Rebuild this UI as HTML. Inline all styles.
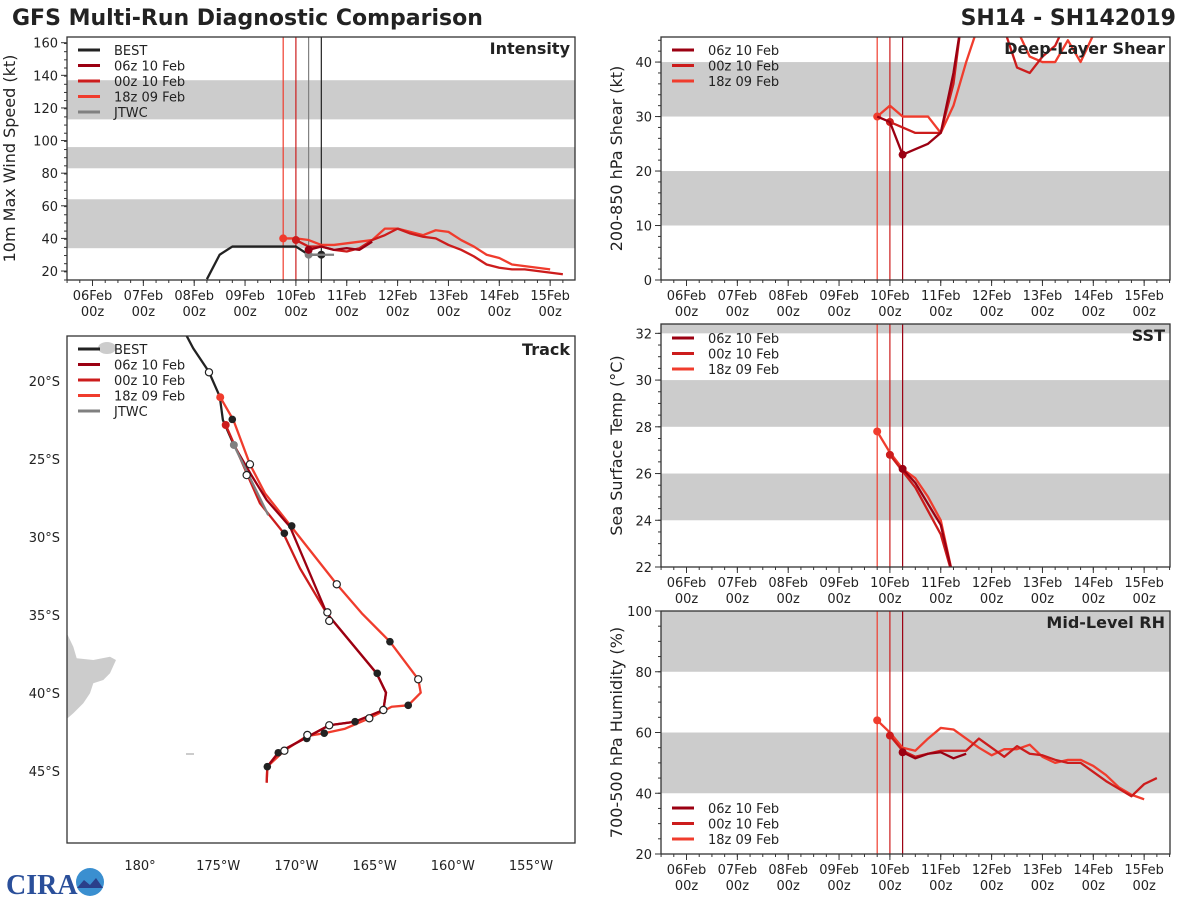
<!DOCTYPE html>
<html><head><meta charset="utf-8">
<style>
html,body{margin:0;padding:0;background:#fff;}
svg{display:block;font-family:"DejaVu Sans","Liberation Sans",sans-serif;}
</style></head>
<body>
<svg id="fig" width="1200" height="900" viewBox="0 0 1200 900" xmlns="http://www.w3.org/2000/svg">
<text x="12" y="25" font-size="22" font-weight="bold" fill="#222">GFS Multi-Run Diagnostic Comparison</text>
<text x="1176" y="25" font-size="22" font-weight="bold" fill="#222" text-anchor="end">SH14 - SH142019</text>
<g>
<text x="6" y="894" font-size="28" font-weight="bold" fill="#2a4f9a" font-family="Liberation Serif, serif">CIRA</text>
<circle cx="90" cy="882" r="14" fill="#3a8fd0"/>
<path d="M77 888 L84 880 L90 885 L96 878 L103 888 Z" fill="#2a3f8a"/>
</g>
</svg>
<script>
// ---------- data ----------
const runNames = ["06z 10 Feb","00z 10 Feb","18z 09 Feb"];
const dayLabels = ["06Feb","07Feb","08Feb","09Feb","10Feb","11Feb","12Feb","13Feb","14Feb","15Feb"];
// times in days since 06 Feb 00z
const bestT = [2.25,2.5,2.75,3.0,3.5,4.0,4.25,4.5];
const bestV = [15,30,35,35,35,35,30,30];
const jtwcT = [4.25,4.5,4.75];
const jtwcV = [30,30,30];
const int06T = [4.25,4.5,4.75,5.0,5.25,5.5];
const int06V = [33,35,33,34,33,38];
const int00T = [4.0,4.25,4.5,4.75,5.0,5.25,5.5,5.75,6.0,6.25,6.5,6.75,7.0,7.25,7.5,7.75,8.0,8.25,8.5,8.75,9.0,9.25];
const int00V = [39,35,35,33,32,34,39,42,46,43,41,40,36,33,29,24,22,21,21,20,19,18];
const int18T = [3.75,4.0,4.25,4.5,4.75,5.0,5.25,5.5,5.75,6.0,6.25,6.5,6.75,7.0,7.25,7.5,7.75,8.0,8.25,8.5,8.75,9.0];
const int18V = [40,40,39,36,36,37,38,39,46,46,44,42,45,44,39,35,30,28,24,23,22,21];

const shr06T = [3.75,4.0,4.25,4.5,4.75,5.0,5.25,5.4];
const shr06V = [30,29,23,24,25,27,38,47];
const shr00T = [4.0,4.25,4.5,4.75,5.0,5.25,5.4,6.25,6.5,6.75,7.0,7.25,7.4];
const shr00V = [29,28,27,27,27,36,47,46,39,38,41,43,46];
const shr18T = [3.75,4.0,4.25,4.5,4.75,5.0,5.25,5.5,5.75,6.25,6.5,6.75,7.0,7.25,7.5,7.75,8.0];
const shr18V = [30,32,30,30,30,27,32,40,47,48,46,41,40,40,44,40,45];

const sst06T = [4.25,4.5,4.75,5.0,5.25];
const sst06V = [26.2,25.6,24.7,23.8,21.5];
const sst00T = [4.0,4.25,4.5,4.75,5.0,5.25];
const sst00V = [26.8,26.1,25.4,24.4,23.4,21.5];
const sst18T = [3.75,4.0,4.25,4.5,4.75,5.0,5.25];
const sst18V = [27.8,26.9,26.2,25.8,25.0,24.0,21.5];

const rh06T = [4.25,4.5,4.75,5.0,5.25,5.5];
const rh06V = [53.5,51.5,53,53.5,51.5,53];
const rh00T = [4.0,4.25,4.5,4.75,5.0,5.25,5.5,5.75,6.0,6.25,6.5,6.75,7.0,7.25,7.5,7.75,8.0,8.25,8.5,8.75,9.0,9.25];
const rh00V = [59,54,52,53,54,54,54,58,55,52,55.5,53,52.5,51,50,50,47,44,41.5,39,43,45];
const rh18T = [3.75,4.0,4.25,4.5,4.75,5.0,5.25,5.5,5.75,6.0,6.25,6.5,6.75,7.0,7.25,7.5,7.75,8.0,8.25,8.5,8.75,9.0];
const rh18V = [64,60,55,54,58,61.5,61,58,55,52.5,54.5,54.5,56,52,50,51,51,49,46,42,39.5,38];

// track (lon, lat)
const bestLon = [-177.6,-176.6,-175.6,-174.9,-174.7,-174.0];
const bestLat = [-16.0,-17.9,-19.4,-21.0,-22.5,-24.1];
const jtwcLon = [-174.0,-171.8];
const jtwcLat = [-24.1,-28.6];
const trk18Lon = [-174.87,-174.03,-172.97,-172.01,-170.41,-167.42,-165.82,-164.02,-162.21,-162.05,-162.85,-163.91,-165.34,-166.89,-168.22,-169.34,-170.77,-171.86,-171.90];
const trk18Lat = [-21.04,-22.50,-25.34,-27.20,-29.23,-33.03,-34.89,-36.71,-39.12,-39.98,-40.79,-40.88,-41.62,-42.29,-42.58,-42.76,-43.70,-44.72,-45.75];
const trk00Lon = [-174.52,-173.82,-173.08,-172.33,-170.88,-169.77,-168.06,-164.87,-164.27,-164.44,-166.25,-167.90,-169.34,-171.16,-171.86,-171.90];
const trk00Lat = [-22.82,-24.42,-26.13,-27.84,-29.66,-32.01,-34.89,-38.74,-39.98,-41.09,-41.84,-42.07,-42.84,-43.83,-44.72,-45.75];
const trk06Lon = [-173.82,-172.9,-171.9,-170.41,-168.06,-164.87,-164.27,-164.44,-166.25,-167.90,-169.34,-171.16,-171.86];
const trk06Lat = [-24.42,-26.0,-27.63,-29.34,-34.89,-38.74,-39.98,-41.09,-41.84,-42.07,-42.84,-43.83,-44.72];
const fillLon = [-174.10,-170.30,-170.77,-164.02,-164.83,-162.85,-166.25,-168.22,-169.34,-171.16,-171.86];
const fillLat = [-22.46,-29.29,-29.76,-36.71,-38.74,-40.79,-41.84,-42.58,-42.91,-43.83,-44.72];
const openLon = [-175.59,-172.97,-173.18,-167.42,-168.02,-167.90,-162.21,-164.44,-165.34,-167.90,-169.30,-170.77];
const openLat = [-19.44,-25.34,-26.03,-33.03,-34.83,-35.38,-39.12,-41.09,-41.62,-42.07,-42.69,-43.70];
const lonTicks = [-180,-175,-170,-165,-160,-155];
const lonLabels = ["180°","175°W","170°W","165°W","160°W","155°W"];
const latTicks = [-20,-25,-30,-35,-40,-45];
const latLabels = ["20°S","25°S","30°S","35°S","40°S","45°S"];

// ---------- drawing ----------
const NS = "http://www.w3.org/2000/svg";
const svg = document.getElementById("fig");
const C06 = "#9b0012", C00 = "#cc1c1c", C18 = "#f03c2d", CB = "#222", CJ = "#808080";
function mk(tag, attrs, parent) {
  const e = document.createElementNS(NS, tag);
  for (const k in attrs) e.setAttribute(k, attrs[k]);
  (parent || svg).appendChild(e);
  return e;
}
let clipN = 0;

function panel(cfg) {
  const g = mk("g", {});
  
  
  const {x0, x1, y0, y1, ymin, ymax} = cfg;
  const tx = t => x0 + 25.5 + t * 50.85;
  const ty = v => y1 - (v - ymin) / (ymax - ymin) * (y1 - y0);
  const cid = "clip" + (clipN++);
  const cp = mk("clipPath", {id: cid}, g);
  mk("rect", {x: x0, y: y0, width: x1 - x0, height: y1 - y0}, cp);
  cfg.bands.forEach(b => {
    const r = mk("rect", {x: x0, y: ty(Math.min(b[1], ymax)), width: x1 - x0, height: ty(b[0]) - ty(Math.min(b[1], ymax)), fill: "#cccccc"}, g);
    
    
  });
  cfg.vlines.forEach(v => {
    const l = mk("line", {x1: tx(v[0]), x2: tx(v[0]), y1: y0, y2: y1, stroke: v[1], "stroke-width": 1.2}, g);
    
    
  });
  const cg = mk("g", {"clip-path": "url(#" + cid + ")"}, g);
  cfg.series.forEach(s => {
    const p = mk("polyline", {points: s.t.map((t, i) => tx(t) + "," + ty(s.v[i])).join(" "), fill: "none", stroke: s.c, "stroke-width": 2.3, "stroke-linejoin": "round"}, cg);
    
    
    if (s.m) {
      const c = mk("circle", {cx: tx(s.t[0]), cy: ty(s.v[0]), r: 4, fill: s.c}, cg);
      
      
    }
    if (s.em) {
      const c = mk("circle", {cx: tx(s.t[s.t.length - 1]), cy: ty(s.v[s.v.length - 1]), r: 4, fill: s.c}, cg);
      
      
    }
  });
  const fr = mk("rect", {x: x0, y: y0, width: x1 - x0, height: y1 - y0, fill: "none", stroke: "#333", "stroke-width": 1.3}, g);
  
  
  dayLabels.forEach((d, i) => {
    const x = tx(i);
    mk("line", {x1: x, x2: x, y1: y1, y2: y1 + 6, stroke: "#333"}, g);
    const t = mk("text", {x: x, y: y1 + 20, "font-size": 13, fill: "#222", "text-anchor": "middle"}, g);
    t.textContent = d;
    
    
    const t2 = mk("text", {x: x, y: y1 + 36, "font-size": 13, fill: "#222", "text-anchor": "middle"}, g);
    t2.textContent = "00z";
    
    
  });
  for (let t = -0.5; t <= 9.5; t += 0.25) {
    const x = tx(t);
    if (x > x0 && x < x1) mk("line", {x1: x, x2: x, y1: y1, y2: y1 + 3, stroke: "#333"}, g);
  }
  cfg.yticks.forEach(v => {
    const y = ty(v);
    mk("line", {x1: x0 - 6, x2: x0, y1: y, y2: y, stroke: "#333"}, g);
    const t = mk("text", {x: x0 - 9, y: y + 5, "font-size": 13, fill: "#222", "text-anchor": "end"}, g);
    t.textContent = String(v);
    
    
  });
  for (let v = ymin; v <= ymax; v += cfg.minor) {
    const y = ty(v);
    if (y >= y0 && y <= y1) mk("line", {x1: x0 - 3, x2: x0, y1: y, y2: y, stroke: "#333"}, g);
  }
  const yl = mk("text", {x: 0, y: 0, "font-size": 16, fill: "#222", "text-anchor": "middle", transform: "translate(" + cfg.ylx + "," + (y0 + y1) / 2 + ") rotate(-90)"}, g);
  yl.textContent = cfg.ylabel;
  
  
  const pt = mk("text", {x: x1 - 5, y: y0 + 17, "font-size": 16, "font-weight": "bold", fill: "#222", "text-anchor": "end"}, g);
  pt.textContent = cfg.title;
  
  
  legend(g, x0 + 11, cfg.legY, cfg.legend);
}

function legend(g, x, y, items) {
  const lg = mk("g", {}, g);
  
  
  items.forEach((it, i) => {
    const yy = y + i * 15.5;
    mk("line", {x1: x, x2: x + 22, y1: yy, y2: yy, stroke: it[1], "stroke-width": 3}, lg);
    const t = mk("text", {x: x + 36, y: yy + 5, "font-size": 13, fill: "#222"}, lg);
    t.textContent = it[0];
    
    
  });
}

const runLeg = [[runNames[0], C06], [runNames[1], C00], [runNames[2], C18]];
const allLeg = [["BEST", CB]].concat(runLeg).concat([["JTWC", CJ]]);

panel({name: "intensity-panel", x0: 67, x1: 575, y0: 37, y1: 280, ymin: 14.5, ymax: 163.5,
  bands: [[34, 64], [83, 96], [113, 137]], yticks: [20, 40, 60, 80, 100, 120, 140, 160], minor: 5,
  vlines: [[3.75, C18], [4.0, C00], [4.25, CJ], [4.5, CB]],
  series: [
    {n: "best", t: bestT, v: bestV, c: CB, em: true},
    {n: "jtwc", t: jtwcT, v: jtwcV, c: CJ, m: true},
    {n: "run-18z-09feb", t: int18T, v: int18V, c: C18, m: true},
    {n: "run-00z-10feb", t: int00T, v: int00V, c: C00, m: true},
    {n: "run-06z-10feb", t: int06T, v: int06V, c: C06, m: true}],
  ylabel: "10m Max Wind Speed (kt)", ylx: 15, title: "Intensity", legY: 50, legend: allLeg});

const rv = [[3.75, C18], [4.0, C00], [4.25, C06]];
panel({name: "shear-panel", x0: 661, x1: 1170, y0: 37, y1: 280, ymin: 0, ymax: 44.6,
  bands: [[10, 20], [30, 40]], yticks: [0, 10, 20, 30, 40], minor: 2, vlines: rv,
  series: [
    {n: "run-18z-09feb", t: shr18T, v: shr18V, c: C18, m: true},
    {n: "run-00z-10feb", t: shr00T, v: shr00V, c: C00, m: true},
    {n: "run-06z-10feb", t: shr06T.slice(2), v: shr06V.slice(2), c: C06, m: true},
    {n: "run-06z-10feb-lead", t: shr06T.slice(0, 3), v: shr06V.slice(0, 3), c: C06}],
  ylabel: "200-850 hPa Shear (kt)", ylx: 622, title: "Deep-Layer Shear", legY: 50, legend: runLeg});

panel({name: "sst-panel", x0: 661, x1: 1170, y0: 324, y1: 567, ymin: 22, ymax: 32.4,
  bands: [[24, 26], [28, 30], [32, 33]], yticks: [22, 24, 26, 28, 30, 32], minor: 0.5, vlines: rv,
  series: [
    {n: "run-18z-09feb", t: sst18T, v: sst18V, c: C18, m: true},
    {n: "run-00z-10feb", t: sst00T, v: sst00V, c: C00, m: true},
    {n: "run-06z-10feb", t: sst06T, v: sst06V, c: C06, m: true}],
  ylabel: "Sea Surface Temp (°C)", ylx: 622, title: "SST", legY: 338, legend: runLeg});

panel({name: "rh-panel", x0: 661, x1: 1170, y0: 611, y1: 854, ymin: 20, ymax: 100,
  bands: [[40, 60], [80, 100]], yticks: [20, 40, 60, 80, 100], minor: 5, vlines: rv,
  series: [
    {n: "run-18z-09feb", t: rh18T, v: rh18V, c: C18, m: true},
    {n: "run-00z-10feb", t: rh00T, v: rh00V, c: C00, m: true},
    {n: "run-06z-10feb", t: rh06T, v: rh06V, c: C06, m: true}],
  ylabel: "700-500 hPa Humidity (%)", ylx: 622, title: "Mid-Level RH", legY: 808, legend: runLeg});

// ---------- track map ----------
(function () {
  const x0 = 67, x1 = 575, y0 = 336, y1 = 843;
  const px = lon => 140 + (lon + 180) * 15.64;
  const py = lat => 381 + (-lat - 20) * 15.6;
  const g = mk("g", {});
  
  
  const cp = mk("clipPath", {id: "trkclip"}, g);
  mk("rect", {x: x0, y: y0, width: x1 - x0, height: y1 - y0}, cp);
  const cg = mk("g", {"clip-path": "url(#trkclip)"}, g);
  const land = mk("polygon", {points: "60,630 66.7,633 73.3,646.7 76.7,658.3 93.3,660 110,656.7 116,660 110,673.3 103.3,680 93.3,683.3 90,693.3 83.3,703.3 73.3,713.3 66.7,719 60,720", fill: "#cccccc"}, cg);
  
  
  const isl = mk("ellipse", {cx: 107, cy: 348, rx: 9, ry: 6, fill: "#cccccc"}, cg);
  
  
  mk("rect", {x: 186, y: 753, width: 8, height: 2, fill: "#ccc"}, cg);
  const tr = [
    ["best-track", bestLon, bestLat, CB],
    ["run-18z-09feb-track", trk18Lon, trk18Lat, C18],
    ["run-00z-10feb-track", trk00Lon, trk00Lat, C00],
    ["run-06z-10feb-track", trk06Lon, trk06Lat, C06],
    ["jtwc-track", jtwcLon, jtwcLat, CJ]];
  tr.forEach(s => {
    const p = mk("polyline", {points: s[1].map((lo, i) => px(lo) + "," + py(s[2][i])).join(" "), fill: "none", stroke: s[3], "stroke-width": 2.3, "stroke-linejoin": "round"}, cg);
    
    
  });
  [[trk18Lon[0], trk18Lat[0], C18], [trk00Lon[0], trk00Lat[0], C00], [jtwcLon[0], jtwcLat[0], CJ]].forEach(m => {
    const c = mk("circle", {cx: px(m[0]), cy: py(m[1]), r: 4, fill: m[2]}, cg);
    
    
  });
  fillLon.forEach((lo, i) => {
    const c = mk("circle", {cx: px(lo), cy: py(fillLat[i]), r: 3.8, fill: "#222"}, cg);
    
    
  });
  openLon.forEach((lo, i) => {
    const c = mk("circle", {cx: px(lo), cy: py(openLat[i]), r: 3.6, fill: "#fff", stroke: "#222", "stroke-width": 1.2}, cg);
    
    
  });
  const fr = mk("rect", {x: x0, y: y0, width: x1 - x0, height: y1 - y0, fill: "none", stroke: "#333", "stroke-width": 1.3}, g);
  
  
  lonTicks.forEach((lo, i) => {
    const t = mk("text", {x: px(lo), y: 870, "font-size": 13, fill: "#222", "text-anchor": "middle"}, g);
    t.textContent = lonLabels[i];
    
    
  });
  latTicks.forEach((la, i) => {
    const t = mk("text", {x: 60, y: py(la) + 5, "font-size": 13, fill: "#222", "text-anchor": "end"}, g);
    t.textContent = latLabels[i];
    
    
  });
  const pt = mk("text", {x: x1 - 5, y: y0 + 19, "font-size": 16, "font-weight": "bold", fill: "#222", "text-anchor": "end"}, g);
  pt.textContent = "Track";
  
  
  legend(g, 78, 349, allLeg);
})();
</script>
</body></html>
